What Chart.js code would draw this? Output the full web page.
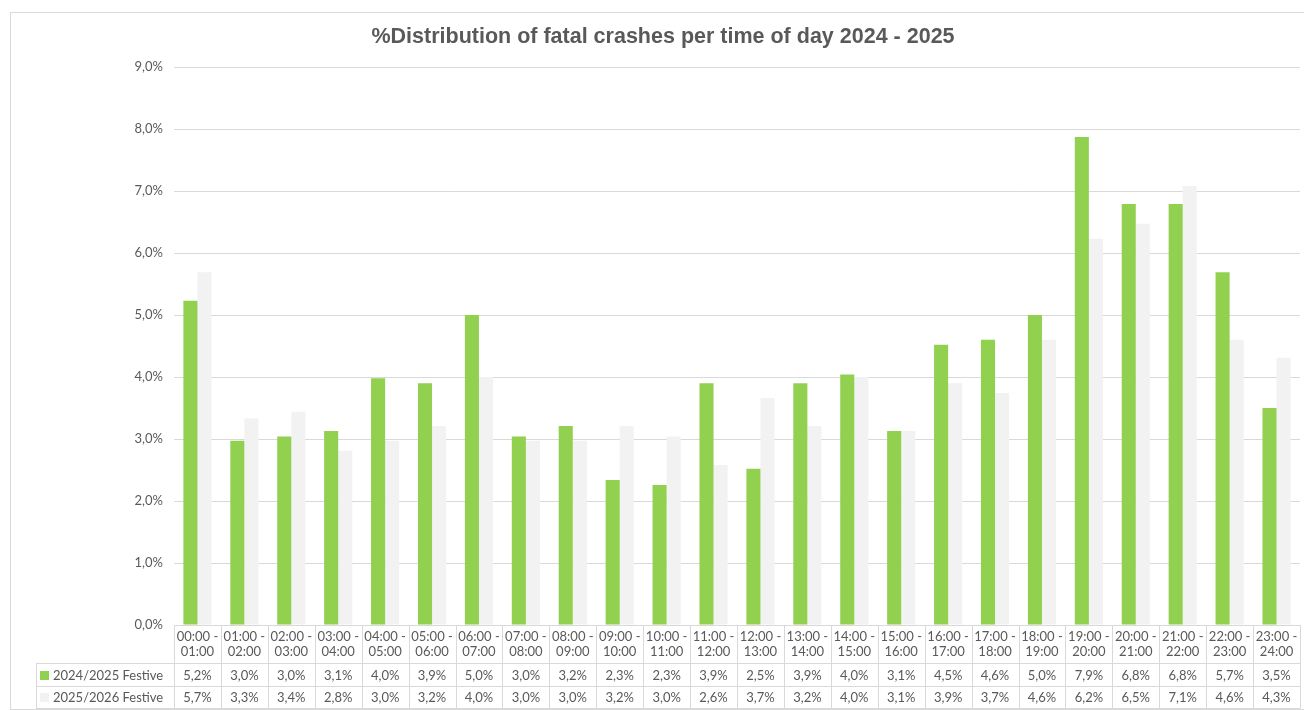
<!DOCTYPE html>
<html>
<head>
<meta charset="utf-8">
<script src="https://cdn.jsdelivr.net/npm/chart.js@4.4.1/dist/chart.umd.min.js"></script>
<style>
  body { margin: 0; background: #ffffff; }
  canvas { display: block; }
</style>
</head>
<body>
<canvas id="crashChart" width="1304" height="710"></canvas>
<script>
// time slots
const timeSlots = ["00:00 - 01:00", "01:00 - 02:00", "02:00 - 03:00", "03:00 - 04:00",
    "04:00 - 05:00", "05:00 - 06:00", "06:00 - 07:00", "07:00 - 08:00",
    "08:00 - 09:00", "09:00 - 10:00", "10:00 - 11:00", "11:00 - 12:00",
    "12:00 - 13:00", "13:00 - 14:00", "14:00 - 15:00", "15:00 - 16:00",
    "16:00 - 17:00", "17:00 - 18:00", "18:00 - 19:00", "19:00 - 20:00",
    "20:00 - 21:00", "21:00 - 22:00", "22:00 - 23:00", "23:00 - 24:00"];

const seriesNames = ["2024/2025 Festive", "2025/2026 Festive"];

// percent values (table shows them rounded)
const festive2024 = [5.23, 2.97, 3.04, 3.13, 3.98, 3.90, 5.00, 3.04, 3.21, 2.34, 2.26, 3.90,
    2.52, 3.90, 4.04, 3.13, 4.52, 4.60, 5.00, 7.87, 6.79, 6.79, 5.69, 3.50];
const festive2025 = [5.69, 3.33, 3.44, 2.81, 2.97, 3.21, 4.00, 2.97, 2.97, 3.21, 3.04, 2.58,
    3.66, 3.21, 4.00, 3.13, 3.90, 3.74, 4.60, 6.23, 6.47, 7.08, 4.60, 4.31];

const yTicks = [0, 1, 2, 3, 4, 5, 6, 7, 8, 9];

const titleText = "%Distribution of fatal crashes per time of day 2024 - 2025";

const colors = ["#92D050", "#F2F2F2"];
const textColor = "#595959";
const lineColor = "#d9d9d9";
const bodyFont = "Lato";

function pct(v) {
    return v.toFixed(1).replace(".", ",") + "%";
}

// draws frame, title and the data table under the plot, like the excel one
const dataTablePlugin = {
    id: "dataTable",
    beforeDraw(chart) {
        let ctx = chart.ctx;
        ctx.save();
        ctx.fillStyle = "#ffffff";
        ctx.fillRect(0, 0, chart.width, chart.height);
        ctx.strokeStyle = lineColor;
        ctx.lineWidth = 1;
        ctx.strokeRect(10.5, 12.5, 1300, 697);
        // title is centred a bit right of the canvas middle in the original
        ctx.font = "bold 21.5px 'Liberation Sans'";
        ctx.fillStyle = textColor;
        ctx.textAlign = "center";
        ctx.textBaseline = "alphabetic";
        ctx.fillText(titleText, 663, 43);
        ctx.restore();
    },
    afterDraw(chart) {
        let ctx = chart.ctx;
        let xs = chart.scales.x;
        let top = chart.chartArea.bottom;
        let step = (xs.right - xs.left) / timeSlots.length;
        let row1 = top + 38;
        let row2 = top + 61;
        let bottom = top + 83;
        let legendLeft = 36;

        ctx.save();
        ctx.strokeStyle = lineColor;
        ctx.lineWidth = 1;
        ctx.beginPath();
        for (let i = 0; i <= timeSlots.length; i++) {
            let x = Math.round(xs.left + i * step) + 0.5;
            ctx.moveTo(x, top);
            ctx.lineTo(x, bottom);
        }
        [row1, row2, bottom].forEach(function(y) {
            ctx.moveTo(legendLeft, y + 0.5);
            ctx.lineTo(Math.round(xs.right) + 0.5, y + 0.5);
        });
        ctx.moveTo(legendLeft + 0.5, row1);
        ctx.lineTo(legendLeft + 0.5, bottom);
        ctx.stroke();

        ctx.font = "13px " + bodyFont;
        ctx.fillStyle = textColor;
        ctx.textBaseline = "middle";
        let rows = [festive2024, festive2025];
        let rowMid = [(row1 + row2) / 2 + 1, (row2 + bottom) / 2 + 1];
        rows.forEach(function(values, r) {
            ctx.textAlign = "center";
            values.forEach(function(v, i) {
                ctx.fillText(pct(v), xs.getPixelForValue(i), rowMid[r]);
            });
            // legend key
            ctx.fillStyle = colors[r];
            ctx.fillRect(legendLeft + 4, Math.round(rowMid[r]) - 5, 9, 9);
            ctx.fillStyle = textColor;
            ctx.textAlign = "left";
            ctx.fillText(seriesNames[r], legendLeft + 17, rowMid[r]);
        });
        ctx.restore();
    }
};

let ctx = document.getElementById("crashChart").getContext("2d");
let crashChart = new Chart(ctx, {
    type: "bar",
    data: {
        labels: timeSlots,
        datasets: [{
            label: seriesNames[0],
            data: festive2024,
            backgroundColor: colors[0]
        }, {
            label: seriesNames[1],
            data: festive2025,
            backgroundColor: colors[1]
        }]
    },
    options: {
        responsive: false,
        maintainAspectRatio: false,
        animation: false,
        datasets: {
            bar: { categoryPercentage: 0.6, barPercentage: 1.0 }
        },
        layout: { padding: { left: 0, right: 4, top: 67, bottom: 0 } },
        plugins: {
            legend: { display: false },
            tooltip: { enabled: false },
            title: { display: false }
        },
        scales: {
            x: {
                grid: { display: false, drawTicks: false },
                border: { display: true, color: lineColor },
                ticks: {
                    autoSkip: false,
                    maxRotation: 0,
                    padding: 4,
                    color: textColor,
                    font: { family: bodyFont, size: 13, lineHeight: 1.15 },
                    callback: function(value, index) {
                        let parts = timeSlots[index].split(" - ");
                        return [parts[0] + " -", parts[1]];
                    }
                },
                afterFit: function(scale) { scale.height = 85; }
            },
            y: {
                min: 0,
                max: 9,
                afterBuildTicks: function(scale) {
                    scale.ticks = yTicks.map(function(v) { return { value: v }; });
                },
                grid: { color: lineColor, drawTicks: false },
                border: { display: false },
                ticks: {
                    padding: 11,
                    color: textColor,
                    font: { family: bodyFont, size: 13 },
                    callback: function(value) { return pct(value); }
                },
                afterFit: function(scale) { scale.width = 174; }
            }
        }
    },
    plugins: [dataTablePlugin]
});
</script>
</body>
</html>
